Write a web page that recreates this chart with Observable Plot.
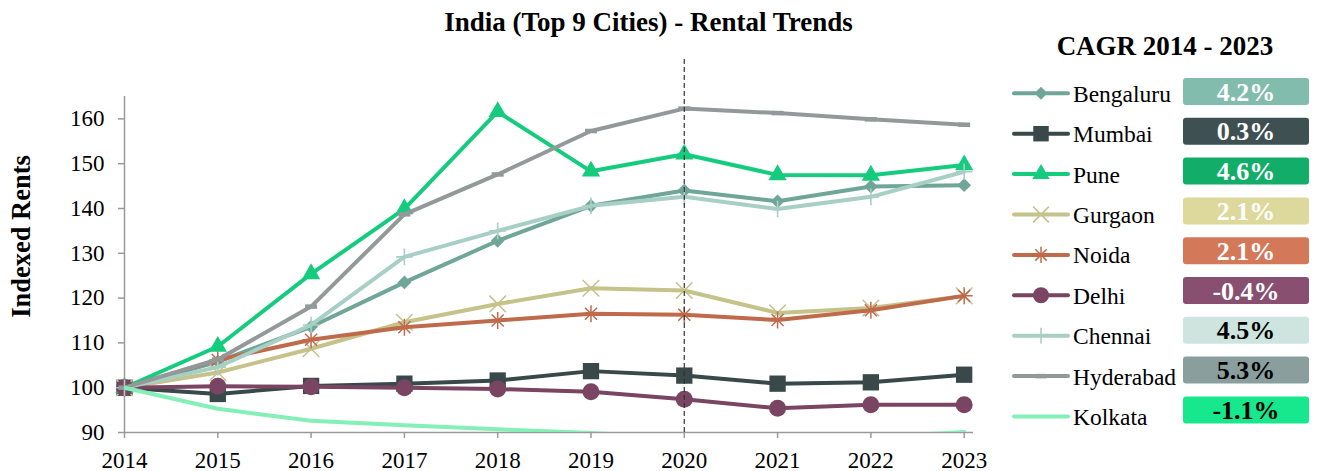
<!DOCTYPE html>
<html><head><meta charset="utf-8">
<script src="https://cdn.jsdelivr.net/npm/d3@7"></script>
<script src="https://cdn.jsdelivr.net/npm/@observablehq/plot@0.6"></script>
<style>
body{margin:0;background:#fff;}
#wrap{position:relative;width:1323px;height:471px;font-family:"Liberation Serif","Times New Roman",serif;}
#chart,#overlay{position:absolute;left:0;top:0;}
#overlay{pointer-events:none;}
</style></head><body>
<div id="wrap"><div id="chart"></div><svg id="overlay" width="1323" height="471"></svg></div>
<script>
// ---------- data ----------
const years = [2014, 2015, 2016, 2017, 2018, 2019, 2020, 2021, 2022, 2023];
const cities = ["Bengaluru", "Mumbai", "Pune", "Gurgaon", "Noida", "Delhi", "Chennai", "Hyderabad", "Kolkata"];
const bengaluru = [100, 105.8, 113.6, 123.5, 132.8, 140.6, 144.0, 141.6, 144.9, 145.2];
const mumbai    = [100, 98.6, 100.4, 100.9, 101.6, 103.7, 102.7, 100.9, 101.2, 102.9];
const pune      = [100, 109.2, 125.4, 139.9, 161.6, 148.3, 152.1, 147.5, 147.4, 149.7];
const gurgaon   = [100, 103.4, 108.7, 114.6, 118.7, 122.2, 121.7, 116.7, 117.8, 120.5];
const noida     = [100, 106.2, 110.7, 113.5, 115.0, 116.5, 116.3, 115.1, 117.3, 120.5];
const delhi     = [100, 100.3, 100.2, 100.0, 99.7, 99.1, 97.4, 95.4, 96.2, 96.2];
const chennai   = [100, 104.6, 114.0, 129.2, 135.0, 140.6, 142.6, 139.9, 142.6, 148.2];
const hyderabad = [100, 106.3, 118.1, 138.7, 147.6, 157.3, 162.3, 161.3, 159.9, 158.7];
const kolkata   = [100, 95.3, 92.6, 91.6, 90.7, 89.9, 88.8, 88.3, 88.9, 90.1];
const series = [bengaluru, mumbai, pune, gurgaon, noida, delhi, chennai, hyderabad, kolkata];
const cagrLabels = ["4.2%", "0.3%", "4.6%", "2.1%", "2.1%", "-0.4%", "4.5%", "5.3%", "-1.1%"];
const yTicks = [90, 100, 110, 120, 130, 140, 150, 160];
const highlightYear = 2020;

// ---------- styles ----------
const lineColors = ["#6fa698", "#394848", "#15cc7e", "#c5c28a", "#c06a4c", "#7a4562", "#a8cfc4", "#939999", "#84efb6"];
const boxColors  = ["#82bcac", "#3e5052", "#13ad6a", "#ddd89c", "#d3795a", "#894f71", "#cde5de", "#8a9e9e", "#18e88d"];
const boxText    = ["#fff", "#fff", "#fff", "#fff", "#fff", "#fff", "#000", "#000", "#000"];
const SQ = Math.SQRT1_2;
const asterisk8 = {draw(ctx, size){ const L = Math.sqrt(size/Math.PI); const d = L*SQ;
  ctx.moveTo(0,-L); ctx.lineTo(0,L); ctx.moveTo(-L,0); ctx.lineTo(L,0);
  ctx.moveTo(-d,-d); ctx.lineTo(d,d); ctx.moveTo(-d,d); ctx.lineTo(d,-d);}};
const hline = {draw(ctx, size){ const L = Math.sqrt(size/Math.PI); ctx.moveTo(-L,0); ctx.lineTo(L,0);}};
const markers = [
  {symbol: "diamond2", r: 6.2, mode: "fill"},
  {symbol: "square", r: 9.2, mode: "fill"},
  {symbol: "triangle", r: 6.8, mode: "fill"},
  {symbol: "times", r: 7.6, mode: "stroke", sw: 1.5},
  {symbol: asterisk8, r: 8.5, mode: "stroke", sw: 1.5},
  {symbol: "circle", r: 8.5, mode: "fill"},
  {symbol: "plus", r: 5.4, mode: "stroke", sw: 1.6},
  {symbol: hline, r: 6, mode: "stroke", sw: 4.5},
  null
];
const FONT = '"Liberation Serif","Times New Roman",serif';

const rows = cities.flatMap((c, i) => series[i].map((v, j) => ({city: c, year: years[j], value: v})));

const marks = [
  Plot.ruleX([2014], {y1: 90, y2: 165, stroke: "#9a9a9a", strokeWidth: 1.5}),
  Plot.ruleY([90], {x1: 2014, x2: 2023.1, stroke: "#9a9a9a", strokeWidth: 1.5})
];
cities.forEach((c, i) => {
  const data = rows.filter(d => d.city === c);
  marks.push(Plot.line(data, {x: "year", y: "value", stroke: lineColors[i], strokeWidth: 4, clip: true}));
  const m = markers[i];
  if (m) {
    const o = {x: "year", y: "value", symbol: m.symbol, r: m.r};
    if (m.mode === "fill") { o.fill = lineColors[i]; o.stroke = "none"; }
    else { o.stroke = lineColors[i]; o.fill = "none"; o.strokeWidth = m.sw; }
    marks.push(Plot.dot(data, o));
  }
});
marks.push(Plot.ruleX([highlightYear], {y1: 90, y2: 173.5, stroke: "#333", strokeWidth: 1.2, strokeDasharray: "5,3"}));

const chart = Plot.plot({
  width: 1323, height: 471,
  marginLeft: 124, marginRight: 350, marginTop: 96, marginBottom: 39,
  style: {fontFamily: FONT, fontSize: "23px", color: "#000", background: "transparent", overflow: "visible"},
  x: {domain: [2014, 2023.1], ticks: years, tickFormat: d => String(d), tickSize: 6, tickPadding: 13, label: null},
  y: {domain: [90, 165], ticks: yTicks, tickSize: 6, tickPadding: 14, label: null},
  marks
});
document.getElementById("chart").appendChild(chart);
d3.select(chart).selectAll('g[aria-label="x-axis tick"], g[aria-label="y-axis tick"]')
  .attr("stroke", "#9a9a9a").attr("stroke-width", 1.5);

// ---------- overlay: titles & legend ----------
const ov = d3.select("#overlay").attr("font-family", FONT);
ov.append("text").attr("x", 648.5).attr("y", 31).attr("text-anchor", "middle")
  .attr("font-size", 27).attr("font-weight", "bold").text("India (Top 9 Cities) - Rental Trends");
ov.append("text").attr("transform", "translate(30,236.5) rotate(-90)").attr("text-anchor", "middle")
  .attr("font-size", 26.5).attr("font-weight", "bold").text("Indexed Rents");
ov.append("text").attr("x", 1165).attr("y", 55).attr("text-anchor", "middle")
  .attr("font-size", 27).attr("font-weight", "bold").text("CAGR 2014 - 2023");

cities.forEach((c, i) => {
  const y = 93.3 + 40.4 * i;
  ov.append("line").attr("x1", 1014).attr("x2", 1068).attr("y1", y).attr("y2", y)
    .attr("stroke", lineColors[i]).attr("stroke-width", 4).attr("stroke-linecap", "round");
  const m = markers[i];
  if (m) {
    const symMap = {diamond2: d3.symbolDiamond2, square: d3.symbolSquare, triangle: d3.symbolTriangle,
      times: d3.symbolTimes, circle: d3.symbolCircle, plus: d3.symbolPlus};
    const t = typeof m.symbol === "string" ? symMap[m.symbol] : m.symbol;
    const p = ov.append("path").attr("transform", `translate(1041,${y})`)
      .attr("d", d3.symbol(t, Math.PI * m.r * m.r * 0.9)());
    if (m.mode === "fill") p.attr("fill", lineColors[i]);
    else p.attr("fill", "none").attr("stroke", lineColors[i]).attr("stroke-width", m.sw);
  }
  ov.append("text").attr("x", 1073).attr("y", 101.7 + 40.4 * i).attr("font-size", 23.5).text(c);
  const by = 78 + 39.8 * i;
  ov.append("rect").attr("x", 1183).attr("y", by).attr("width", 126).attr("height", 27).attr("rx", 3)
    .attr("fill", boxColors[i]);
  ov.append("text").attr("x", 1246).attr("y", by + 22.5).attr("text-anchor", "middle")
    .attr("font-size", 26).attr("font-weight", "bold").attr("fill", boxText[i]).text(cagrLabels[i]);
});
</script>
</body></html>
